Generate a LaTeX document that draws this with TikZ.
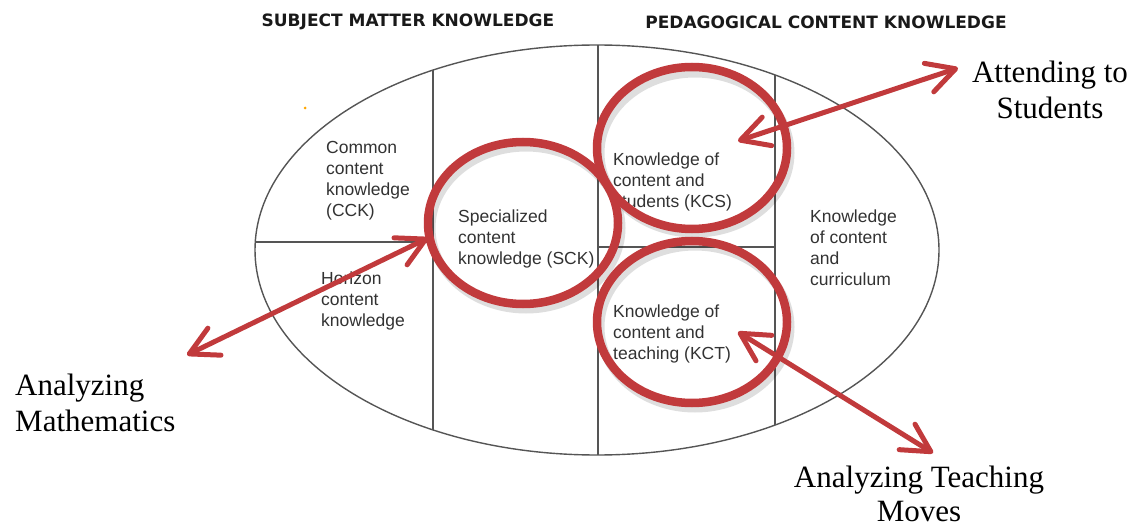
\documentclass[tikz,border=0pt]{standalone}
\usepackage{fontspec}
\setmainfont{Liberation Serif}
\setsansfont{Liberation Sans}
\newfontfamily\headfont{DejaVu Sans}
\usetikzlibrary{shapes.geometric,arrows.meta}
\definecolor{ringred}{RGB}{193,58,60}
\definecolor{linegray}{RGB}{85,85,85}
\definecolor{txtgray}{RGB}{50,50,50}
\begin{document}
\begin{tikzpicture}[x=1pt,y=-1pt,
  ring/.style={draw=ringred, line width=8.5pt, ellipse, inner sep=0pt, minimum width=190pt, minimum height=162pt},
  ringshadow/.style={draw=black, draw opacity=0.13, line width=9pt},
  cell/.style={anchor=north west, inner sep=0pt, align=left, text=txtgray, font=\sffamily\fontsize{17.5}{21}\selectfont},
  hdr/.style={inner sep=0pt, text=black!90, font=\headfont\bfseries\fontsize{17}{20}\selectfont},
  sidelabel/.style={inner sep=0pt, align=center, font=\rmfamily\fontsize{31}{36}\selectfont},
  part/.style={draw=linegray, line width=1.4pt},
  link/.style={draw=ringred, line width=5pt, line cap=round,
    {Straight Barb[length=28pt,width=30pt,round]}-{Straight Barb[length=28pt,width=30pt,round]}}
]
\useasboundingbox (0,0) rectangle (1134,529);

% headings
\node[hdr] (smk) at (408,22) {SUBJECT MATTER KNOWLEDGE};
\node[hdr] (pck) at (826,22) {PEDAGOGICAL CONTENT KNOWLEDGE};

% outer ellipse and partitions
\draw[part] (597,250) ellipse [x radius=342, y radius=205];
\draw[part] (433,70) -- (433,430);
\draw[part] (598,45) -- (598,455);
\draw[part] (775,75) -- (775,425);
\draw[part] (255.5,242) -- (433,242);
\draw[part] (598,247) -- (775,247);
\fill[orange!70!yellow] (305,108) circle [radius=1.5];

% cell texts
\node[cell] (cck) at (326,141) {Common\\content\\knowledge\\(CCK)};
\node[cell] (hck) at (321,272) {Horizon\\content\\knowledge};
\node[cell] (scktext) at (458,210) {Specialized\\content\\knowledge (SCK)};
\node[cell] (kcstext) at (613,153) {Knowledge of\\content and\\students (KCS)};
\node[cell] (kcc) at (810,210) {Knowledge\\of content\\and\\curriculum};
\node[cell] (kcttext) at (613,305) {Knowledge of\\content and\\teaching (KCT)};

% ring shadows
\draw[ringshadow] (526,228) ellipse [x radius=95, y radius=81];
\draw[ringshadow] (695,153) ellipse [x radius=95, y radius=80];
\draw[ringshadow] (695,327) ellipse [x radius=95, y radius=81];

% rings
\node[ring] (sck) at (523,223) {};
\node[ring] (kcs) at (692,148) {};
\node[ring] (kct) at (692,322) {};

% outside labels
\node[sidelabel, anchor=north west, align=left] (math) at (15,374) {Analyzing\\Mathematics};
\node[sidelabel, anchor=north] (stud) at (1050,61) {Attending to\\Students};
\node[sidelabel, anchor=north, font=\rmfamily\fontsize{31}{34}\selectfont] (moves) at (919,466) {Analyzing Teaching\\Moves};

% arrows
\coordinate (mathtip) at (187,355);
\coordinate (scktip) at (428,238);
\coordinate (studtip) at (958,68);
\coordinate (kcstip) at (738,141);
\coordinate (kcttip) at (738,332);
\coordinate (movetip) at (933,453);
\draw[link] (mathtip) -- (scktip);
\draw[link] (kcstip) -- (studtip);
\draw[link] (kcttip) -- (movetip);
\end{tikzpicture}
\end{document}
